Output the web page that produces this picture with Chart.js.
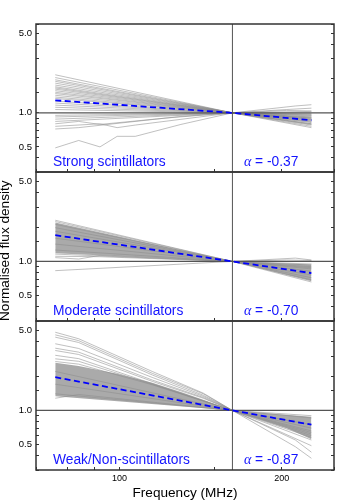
<!DOCTYPE html>
<html>
<head>
<meta charset="utf-8">
<script src="https://cdn.jsdelivr.net/npm/chart.js@4.4.1/dist/chart.umd.min.js"></script>
<style>
html,body{margin:0;padding:0;background:#fff;}
#wrap{position:relative;width:360px;height:504px;}
canvas{position:absolute;left:0;top:0;}
</style>
</head>
<body>
<div id="wrap">
<canvas id="c1" width="360" height="504"></canvas>
<canvas id="c2" width="360" height="504"></canvas>
<canvas id="c3" width="360" height="504"></canvas>
</div>
<script>
const _ = null;
// Frequencies (MHz) at which the normalised spectra are sampled
const freqs = [76, 84, 92, 99, 107, 115, 122, 130, 143, 162, 181, 204, 212, 227];
const refFreq = 162;
const xRange = [70, 250];
const yRange = [0.3, 6.1];
const xTickLabels = [100, 200];
const yTickLabels = [0.5, 1.0, 5.0];
const panelNames = ['Strong scintillators', 'Moderate scintillators', 'Weak/Non-scintillators'];
const alphaValues = ['-0.37', '-0.70', '-0.87'];

// Strong scintillators
const strongLines = [
  [2.17,_,_,_,_,_,_,_,_,1,_,_,_,0.78],
  [2.05,_,_,_,_,_,_,_,_,1,_,_,_,0.80],
  [1.96,_,_,_,_,_,_,_,_,1,_,_,_,0.84],
  [1.90,_,_,_,_,_,_,_,_,1,_,_,_,0.76],
  [1.83,_,_,_,_,_,_,_,_,1,_,_,_,0.82],
  [1.76,_,_,_,_,_,_,_,_,1,_,_,_,0.88],
  [1.70,_,_,_,_,_,_,_,_,1,_,_,_,0.80],
  [1.66,_,_,_,_,_,_,_,_,1,_,_,_,0.90],
  [1.62,_,_,_,_,_,_,_,_,1,_,_,_,0.85],
  [1.57,_,_,_,_,_,_,_,_,1,_,_,_,0.83],
  [1.52,_,_,_,_,_,_,_,_,1,_,_,_,0.92],
  [1.48,_,_,_,_,_,_,_,_,1,_,_,_,0.87],
  [1.43,_,_,_,_,_,_,_,_,1,_,_,_,0.79],
  [1.38,_,_,_,_,_,_,_,_,1,_,_,_,0.90],
  [1.34,_,_,_,_,_,_,_,_,1,_,_,_,0.94],
  [1.27,_,_,_,_,_,_,_,_,1,_,_,_,0.88],
  [1.22,_,_,_,_,_,_,_,_,1,_,_,_,0.96],
  [1.17,_,_,_,_,_,_,_,_,1,_,_,_,0.86],
  [1.12,_,_,_,_,_,_,_,_,1,_,_,_,0.92],
  [1.07,_,_,_,_,_,_,_,_,1,_,_,_,1.03],
  [0.95,_,_,_,_,_,_,_,_,1,_,_,_,0.95],
  [0.92,_,_,_,_,_,_,_,_,1,_,1.07,_,1.10],
  [0.88,_,_,_,_,_,_,_,_,1,_,_,_,0.97],
  [0.84,_,_,_,_,_,_,_,_,1,_,_,1.15,1.18],
  [0.80,0.84,0.79,_,_,_,0.90,_,_,1,_,_,_,0.74],
  [0.76,_,0.80,0.74,0.78,_,_,_,_,1,_,_,_,0.90],
  [0.72,0.74,_,_,_,_,_,0.93,_,1,_,1.05,_,1.04],
  [0.49,0.57,0.50,0.62,0.62,_,_,0.79,_,1,_,_,_,0.99]
];
const strongMedian = [1.29,_,_,_,_,_,_,_,_,1,_,_,_,0.86];

// Moderate scintillators
const modBandHi = [2.20,_,_,_,_,_,_,_,_,1,_,_,_,0.94];
const modBandLo = [1.18,_,_,_,_,_,_,_,_,1,_,_,_,0.67];
const modLines = [
  [2.30,_,_,_,_,_,_,_,_,1,_,_,_,0.72],
  [2.24,_,_,_,_,_,_,_,_,1,_,_,_,0.69],
  [2.12,_,_,_,_,_,_,_,_,1,_,_,_,0.66],
  [1.98,_,_,_,_,_,_,_,_,1,_,_,_,0.76],
  [1.84,_,_,_,_,_,_,_,_,1,_,_,_,0.82],
  [1.60,_,_,_,_,_,_,_,_,1,_,_,_,0.86],
  [1.42,_,_,_,_,_,_,_,_,1,_,_,_,0.90],
  [1.26,_,_,_,_,_,_,_,_,1,_,_,_,0.93],
  [1.16,_,_,_,_,_,_,_,_,1,_,_,_,0.88],
  [1.11,_,1.10,_,_,_,_,_,_,1,_,_,_,0.95],
  [1.08,1.05,1.13,_,_,_,_,_,_,1,_,_,1.07,1.03],
  [0.83,_,_,_,_,_,_,_,_,1,_,1.03,_,1.02]
];
const modMedian = [1.70,_,_,_,_,_,_,_,_,1,_,_,_,0.79];

// Weak / non-scintillators
const weakBandHi = [2.62,2.45,_,2.10,_,1.75,_,1.45,1.24,1,_,_,_,0.88];
const weakBandLo = [1.33,_,_,_,_,_,_,_,_,1,_,0.70,_,0.56];
const weakLines = [
  [4.86,4.26,_,_,_,2.20,_,_,1.42,1,_,_,0.55,0.43],
  [4.61,4.10,_,_,_,2.12,_,_,1.40,1,_,_,0.48,0.38],
  [4.40,3.95,_,_,_,2.05,_,_,1.36,1,_,_,_,0.49],
  [3.85,3.50,_,_,_,1.95,_,_,1.33,1,_,_,_,0.55],
  [3.52,3.25,_,_,_,1.85,_,_,1.30,1,_,_,_,0.58],
  [3.36,3.10,_,_,_,1.80,_,_,1.28,1,_,_,_,0.62],
  [3.05,2.85,_,_,_,1.72,_,_,_,1,_,_,_,0.66],
  [2.84,2.70,_,_,_,1.70,_,_,_,1,_,_,_,0.70],
  [2.69,2.55,_,_,_,1.68,_,_,_,1,_,_,_,0.75],
  [2.20,_,_,_,_,_,_,_,_,1,_,_,_,0.86],
  [1.70,_,_,_,_,_,_,_,_,1,_,_,_,0.64],
  [1.40,_,_,_,_,_,_,_,_,1,_,_,_,0.60],
  [1.28,1.38,_,_,_,_,_,_,_,1,_,_,_,0.90]
];
const weakMedian = [1.96,_,_,_,_,_,_,_,_,1,_,_,_,0.75];

const FONT = '"Liberation Sans", Arial, Helvetica, sans-serif';
const LINE_COLOR = 'rgba(140,140,140,0.55)';
const BAND_COLOR = 'rgb(170,170,170)';

const framePlugin = {
  id: 'frame',
  afterDatasetsDraw(chart) {
    const {ctx, chartArea: a} = chart;
    ctx.save();
    ctx.strokeStyle = '#333';
    ctx.lineWidth = 1.5;
    ctx.strokeRect(a.left, a.top, a.right - a.left, a.bottom - a.top);
    ctx.restore();
  }
};

const textPlugin = {
  id: 'panelText',
  afterDraw(chart, args, opts) {
    const {ctx, chartArea: a} = chart;
    const xs = chart.scales.x;
    const base = a.bottom - 6.5;
    ctx.save();
    ctx.fillStyle = '#1414ff';
    ctx.textAlign = 'left';
    ctx.textBaseline = 'alphabetic';
    ctx.font = '13.8px ' + FONT;
    ctx.fillText(opts.name, a.left + 17, base);
    let x = xs.getPixelForValue(refFreq) + 11.5;
    ctx.font = 'italic 14px "Liberation Serif", "DejaVu Serif", serif';
    ctx.fillText('\u03b1', x, base);
    x += ctx.measureText('\u03b1').width;
    ctx.font = '13.8px ' + FONT;
    ctx.fillText(' = ' + opts.alpha, x, base);
    ctx.restore();
  }
};

function near(v, list) { return list.some(t => Math.abs(v - t) < 1e-6); }

function buildPanel(id, idx, lines, median, bandHi, bandLo, top, bottom, isLast, hasYTitle) {
  const datasets = [];
  datasets.push({data: median, borderColor: '#0000ff', borderWidth: 1.8, borderDash: [6, 3.5],
    pointRadius: 0, spanGaps: true, fill: false, order: 0});
  datasets.push({data: [{x: xRange[0], y: 1}, {x: xRange[1], y: 1}], borderColor: '#555',
    borderWidth: 1.2, pointRadius: 0, fill: false, order: 1});
  datasets.push({data: [{x: refFreq, y: yRange[0]}, {x: refFreq, y: yRange[1]}], borderColor: '#555',
    borderWidth: 1, pointRadius: 0, fill: false, order: 1});
  lines.forEach(l => datasets.push({data: l, borderColor: LINE_COLOR, borderWidth: 1,
    pointRadius: 0, spanGaps: true, fill: false, order: 2}));
  if (bandHi) {
    datasets.push({data: bandHi, borderColor: 'rgba(0,0,0,0)', borderWidth: 0, backgroundColor: BAND_COLOR,
      pointRadius: 0, spanGaps: true, fill: '+1', order: 3});
    datasets.push({data: bandLo, borderColor: 'rgba(0,0,0,0)', borderWidth: 0,
      pointRadius: 0, spanGaps: true, fill: false, order: 3});
  }
  const xh = isLast ? 34 : 0;
  const gridOpts = {drawOnChartArea: false, tickLength: -3, color: '#333', tickWidth: 1};
  new Chart(document.getElementById(id), {
    type: 'line',
    data: {labels: freqs, datasets},
    options: {
      responsive: false, animation: false, events: [],
      layout: {padding: {top: top, bottom: 504 - bottom - xh, left: 0, right: 0}},
      plugins: {legend: {display: false}, tooltip: {enabled: false},
        panelText: {name: panelNames[idx], alpha: alphaValues[idx]}},
      scales: {
        x: {type: 'logarithmic', min: xRange[0], max: xRange[1], position: 'bottom',
          afterFit: s => { s.height = xh; },
          border: {display: false}, grid: gridOpts,
          ticks: {display: isLast, autoSkip: false, maxRotation: 0, padding: 6, color: '#000',
            font: {family: FONT, size: 9},
            callback: v => near(v, xTickLabels) ? String(Math.round(v)) : ''},
          title: {display: isLast, text: 'Frequency (MHz)', color: '#000',
            font: {family: FONT, size: 13.6}, padding: {top: 0, bottom: 3}}},
        y: {type: 'logarithmic', min: yRange[0], max: yRange[1], position: 'left',
          afterFit: s => { s.width = 36; },
          border: {display: false}, grid: gridOpts,
          ticks: {autoSkip: false, padding: 7, color: '#000', font: {family: FONT, size: 9.5},
            callback: v => near(v, yTickLabels) ? v.toFixed(1) : ''},
          title: {display: hasYTitle, text: 'Normalised flux density', color: '#000', align: 'start',
            font: {family: FONT, size: 13.6, lineHeight: 0.7}, padding: {top: 0, bottom: 0}}},
        yR: {type: 'logarithmic', min: yRange[0], max: yRange[1], position: 'right',
          afterFit: s => { s.width = 26; },
          border: {display: false}, grid: gridOpts,
          ticks: {autoSkip: false, callback: () => ''}}
      }
    },
    plugins: [framePlugin, textPlugin]
  });
}

buildPanel('c1', 0, strongLines, strongMedian, null, null, 24, 172, false, false);
buildPanel('c2', 1, modLines, modMedian, modBandHi, modBandLo, 172, 321, false, true);
buildPanel('c3', 2, weakLines, weakMedian, weakBandHi, weakBandLo, 321, 470, true, false);
</script>
</body>
</html>
